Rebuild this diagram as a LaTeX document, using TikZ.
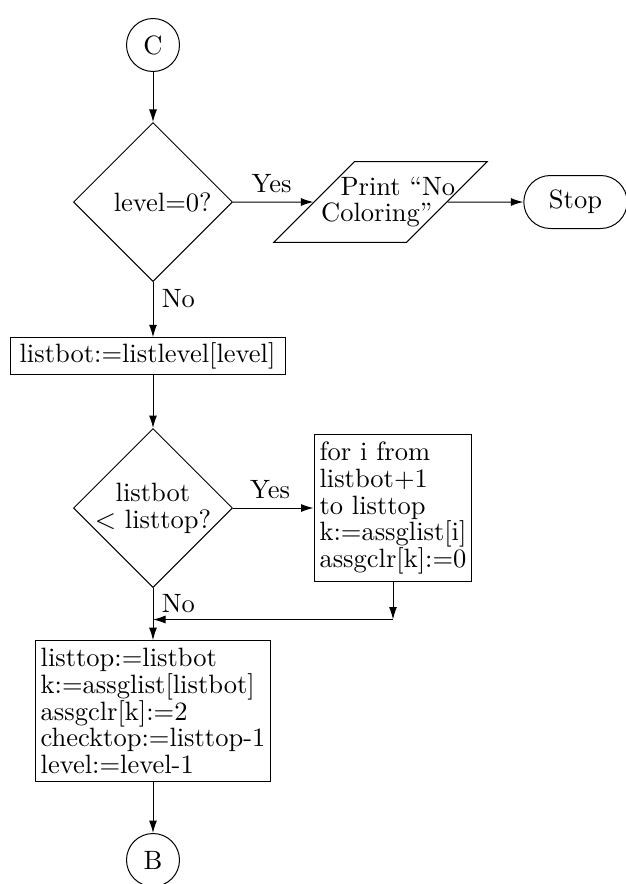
\documentclass[tikz,border=0pt]{standalone}
\usepackage{tikz}
\usetikzlibrary{shapes,arrows,positioning,arrows.meta}
\tikzstyle{decision} = [diamond, draw=black, aspect=1, minimum width=63.6pt, minimum height=63.6pt, text centered, inner sep=0pt]
\tikzstyle{block} = [rectangle, draw=black, align=left, inner xsep=2.2pt, inner ysep=3pt]
\tikzstyle{connector} = [circle, draw=black, minimum size=21.2pt, inner sep=0pt]
\tikzstyle{io} = [trapezium, trapezium left angle=45, trapezium right angle=135, draw=black, text width=47.5pt, align=left, inner xsep=-13.3pt, inner ysep=6pt]
\tikzstyle{terminal} = [rounded rectangle, draw=black, minimum width=48pt, minimum height=21.2pt]
\tikzstyle{line} = [draw=black, -{Latex[length=5pt,width=3.2pt]}]

\begin{document}
\begin{tikzpicture}[node distance=60pt,align=center,auto,font=\fontsize{10.6}{10.7}\selectfont]
    \useasboundingbox (0,0) rectangle (250pt,-353.6pt);
	\node[connector] at (61.2pt,-18pt) (c){C};
	\node[decision, below of=c, node distance=62.8pt](iszero){\hspace*{7.8pt}level=0?};
	\node[io, right of=iszero, node distance=91pt](nocolor){\hspace*{7.8pt}Print~“No\\Coloring”};
	\node[terminal, right of=nocolor, node distance=78pt](stop){Stop};
	\node[block, below of=iszero, node distance=61.6pt, xshift=-2.2pt, minimum width=110pt, minimum height=13.2pt, inner ysep=2pt](setbot){listbot:=listlevel[level]};
	\node[decision, below of=iszero, node distance=122.4pt, inner sep=-1.1pt](cmptop){listbot\\$<$ listtop?};
	\node[block, right of=cmptop, node distance=96pt, minimum height=57.2pt](loopbody){for i from\\listbot+1\\to listtop\\k:=assglist[i]\\assgclr[k]:=0};
	\coordinate[below of=loopbody, node distance=44.6pt](back);
	\node[block, below of=cmptop, node distance=81.2pt, minimum height=56pt](update){listtop:=listbot\\k:=assglist[listbot]\\assgclr[k]:=2\\checktop:=listtop-1\\level:=level-1};
	\node[connector, below of=update, node distance=59.6pt](b){B};

	\path[line](c)        -- (iszero);
	\path[line](iszero)   -- node[pos=0.48]{Yes} (nocolor);
	\path[line](nocolor)  -- (stop);
	\path[line](iszero)   -- node[pos=0.3]{No} (iszero |- setbot.north);
	\path[line](setbot.south -| cmptop) -- (cmptop);
	\path[line](cmptop)   -- node[pos=0.46]{Yes} (loopbody);
	\path[line](loopbody) -- (back);
	\path[line](back)     -- (back -| cmptop);
	\path[line](cmptop)   -- node[pos=0.3]{No} (update);
	\path[line](update)   -- (b);
\end{tikzpicture}
\end{document}
